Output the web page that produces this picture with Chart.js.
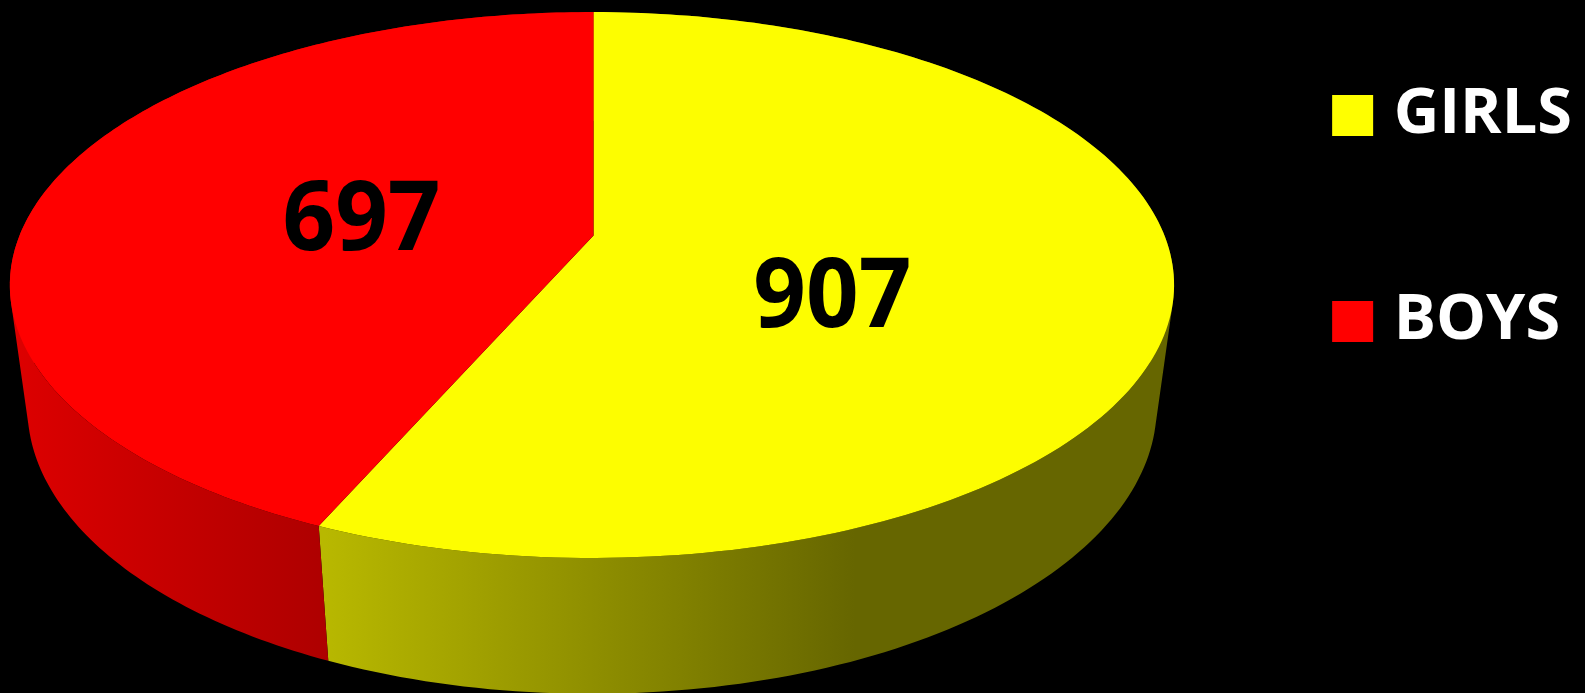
<!DOCTYPE html>
<html>
<head>
<meta charset="utf-8">
<style>
	html, body { margin: 0; padding: 0; background: #000; overflow: hidden; }
	canvas { display: block; }
</style>
<script src="https://cdn.jsdelivr.net/npm/chart.js@4/dist/chart.umd.js"></script>
</head>
<body>
<canvas id="genderPie" width="1585" height="693"></canvas>
<script>
const categories = ['GIRLS', 'BOYS']
const counts = [907, 697]
const legendColors = ['#ffff00', '#ff0000']
const faceColors = ['#fdfd00', '#ff0000']
const wallStops = [
	[[325, '#b8b800'], [855, '#666600']],
	[[20, '#dc0000'], [325, '#ae0000']],
]

// perspective of the tilted disc, fitted to the picture
const view = { x: 593.5, y: 235.6, a: 572.5, b: 264, p: -0.181, r: 0.0026, q: 0.03, c: 125 }
const labelRadius = 0.42
const labelShiftY = [41, 9]
const labelSqueeze = 0.95

// angle is the arc element's own angle, r 0..1 on the disc, h 0 top rim, 1 bottom rim
function project(angle, r, h) {
	const u = r * Math.cos(angle)
	const v = r * Math.sin(angle)
	const w = 1 + view.p * v + view.r * u + view.q * h
	return { x: view.x + (view.a * u) / w, y: view.y + (view.b * v + view.c * h) / w }
}

function rimPoints(arc, h) {
	const pts = []
	const steps = 180
	for (let i = 0; i <= steps; i++) {
		pts.push(project(arc.startAngle + ((arc.endAngle - arc.startAngle) * i) / steps, 1, h))
	}
	return pts
}

// all quads must wind the same way or they cancel out in one path
function addQuad(ctx, pts) {
	let area = 0
	pts.forEach((pt, i) => {
		const next = pts[(i + 1) % pts.length]
		area += pt.x * next.y - next.x * pt.y
	})
	const ordered = area < 0 ? pts.slice().reverse() : pts
	ctx.moveTo(ordered[0].x, ordered[0].y)
	ordered.slice(1).forEach((pt) => ctx.lineTo(pt.x, pt.y))
	ctx.closePath()
}

const pie3d = {
	id: 'pie3d',
	beforeDatasetDraw(chart, args) {
		const ctx = chart.ctx
		const arcs = args.meta.data
		ctx.save()
		// side wall, all strips in one path so no seams show between them
		arcs.forEach((arc, i) => {
			const top = rimPoints(arc, 0)
			const bottom = rimPoints(arc, 1)
			const stops = wallStops[i]
			const grad = ctx.createLinearGradient(stops[0][0], 0, stops[1][0], 0)
			stops.forEach((s, k) => grad.addColorStop(k, s[1]))
			ctx.fillStyle = grad
			ctx.beginPath()
			for (let k = 0; k < top.length - 1; k++) {
				addQuad(ctx, [top[k], top[k + 1], bottom[k + 1], bottom[k]])
			}
			ctx.fill()
		})
		// top face
		arcs.forEach((arc, i) => {
			const apex = project(0, 0, 0)
			ctx.beginPath()
			ctx.moveTo(apex.x, apex.y)
			rimPoints(arc, 0).forEach((pt) => ctx.lineTo(pt.x, pt.y))
			ctx.closePath()
			ctx.fillStyle = faceColors[i]
			ctx.fill()
		})
		// values
		ctx.fillStyle = '#000'
		ctx.font = 'bold 97px "Open Sans"'
		ctx.letterSpacing = '0px'
		ctx.textAlign = 'center'
		ctx.textBaseline = 'middle'
		arcs.forEach((arc, i) => {
			const pos = project((arc.startAngle + arc.endAngle) / 2, labelRadius, 0)
			ctx.save()
			ctx.translate(pos.x, pos.y + labelShiftY[i])
			ctx.scale(labelSqueeze, 1)
			ctx.fillText(String(counts[i]), 0, 0)
			ctx.restore()
		})
		ctx.restore()
		return false
	},
}

var ctx = document.getElementById('genderPie').getContext('2d')
// the legend text is narrower than Open Sans, this also goes into the legend's measuring
ctx.letterSpacing = '-3px'
var genderPie = new Chart(ctx, {
	type: 'pie',
	data: {
		labels: categories,
		datasets: [
			{
				data: counts,
				backgroundColor: legendColors,
				borderWidth: 0,
			},
		],
	},
	options: {
		responsive: false,
		animation: false,
		layout: { padding: { top: -59, right: 3 } },
		plugins: {
			tooltip: { enabled: false },
			legend: {
				position: 'right',
				align: 'start',
				labels: {
					color: '#fff',
					font: { family: 'Open Sans', size: 63, weight: 'bold' },
					usePointStyle: true,
					pointStyle: 'rect',
					boxWidth: 19,
					boxHeight: 41,
					padding: 143,
				},
			},
		},
	},
	plugins: [pie3d],
})
</script>
</body>
</html>
